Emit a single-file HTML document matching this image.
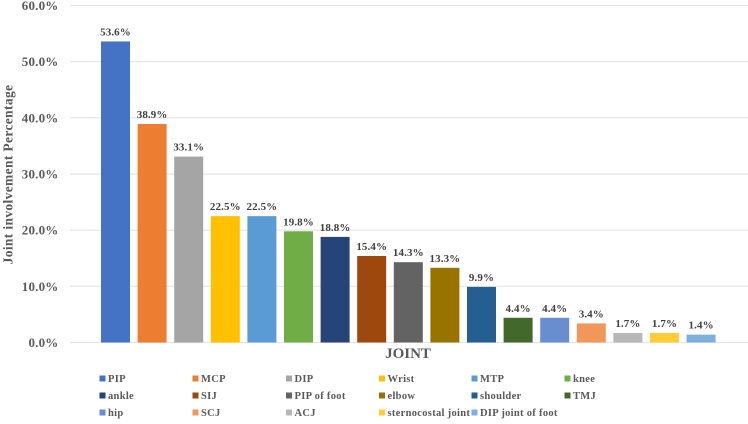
<!DOCTYPE html>
<html>
<head>
<meta charset="utf-8">
<style>
html,body{margin:0;padding:0;background:#fff;width:748px;height:424px;overflow:hidden}
svg{display:block;font-family:"Liberation Serif",serif;font-weight:bold;filter:blur(0.35px)}
</style>
</head>
<body>
<svg id="chart" width="748" height="424" viewBox="0 0 748 424" xmlns="http://www.w3.org/2000/svg">
<text transform="translate(12.5,174.5) rotate(-90)" text-anchor="middle" font-size="13.5" fill="#595959" letter-spacing="0.35">Joint involvement Percentage</text>
<text x="408" y="358" text-anchor="middle" font-size="15" fill="#595959">JOINT</text>
</svg>
<script>
const categories = ["PIP","MCP","DIP","Wrist","MTP","knee","ankle","SIJ","PIP of foot","elbow","shoulder","TMJ","hip","SCJ","ACJ","sternocostal joint","DIP joint of foot"];
const values = [53.6,38.9,33.1,22.5,22.5,19.8,18.8,15.4,14.3,13.3,9.9,4.4,4.4,3.4,1.7,1.7,1.4];
const colors = ["#4472c4","#ed7d31","#a5a5a5","#ffc000","#5b9bd5","#70ad47","#264478","#9e480e","#636363","#997300","#255e91","#43682b","#698ed0","#f1975a","#b7b7b7","#ffcd33","#7cafdd"];
const yTicks = [0,10,20,30,40,50,60];

const svg = document.getElementById('chart');
const NS = 'http://www.w3.org/2000/svg';
const y = v => 342.5 - v * (337 / 60);
const x = i => 115.5 + i * 36.6;
const slug = s => s.toLowerCase().replace(/\s+/g, '-');
function make(tag, attrs, text) {
  const el = document.createElementNS(NS, tag);
  for (const k in attrs) el.setAttribute(k, attrs[k]);
  if (text !== undefined) el.textContent = text;
  svg.appendChild(el);
  return el;
}
yTicks.forEach(t => {
  const line = make('line', {x1: 70, x2: 748, y1: y(t), y2: y(t), stroke: '#e4e4e4', 'stroke-width': 1.2});
  
  
  const label = make('text', {x: 58.5, y: y(t) + 4.5, 'text-anchor': 'end', 'font-size': 13, fill: '#595959', 'letter-spacing': 0.2}, t.toFixed(1) + '%');
  
  
});
values.forEach((v, i) => {
  const bar = make('rect', {x: x(i) - 14.5, y: y(v), width: 29, height: y(0) - y(v), fill: colors[i]});
  
  
  const label = make('text', {x: x(i), y: y(v) - 6, 'text-anchor': 'middle', 'font-size': 11, fill: '#404040', 'letter-spacing': 0.1}, v.toFixed(1) + '%');
  
  
});
const legendSwatchX = [99.5, 192.5, 286, 379, 471.5, 564.5];
const legendRowY = [378.5, 395.5, 412.5];
categories.forEach((c, i) => {
  const col = i % 6;
  const row = Math.floor(i / 6);
  const sw = make('rect', {x: legendSwatchX[col], y: legendRowY[row] - 3, width: 6, height: 6, fill: colors[i]});
  
  
  const label = make('text', {x: legendSwatchX[col] + 8.5, y: legendRowY[row] + 3.5, 'font-size': 10.5, fill: '#595959', 'letter-spacing': 0.3}, c);
  
  
});
</script>
</body>
</html>
